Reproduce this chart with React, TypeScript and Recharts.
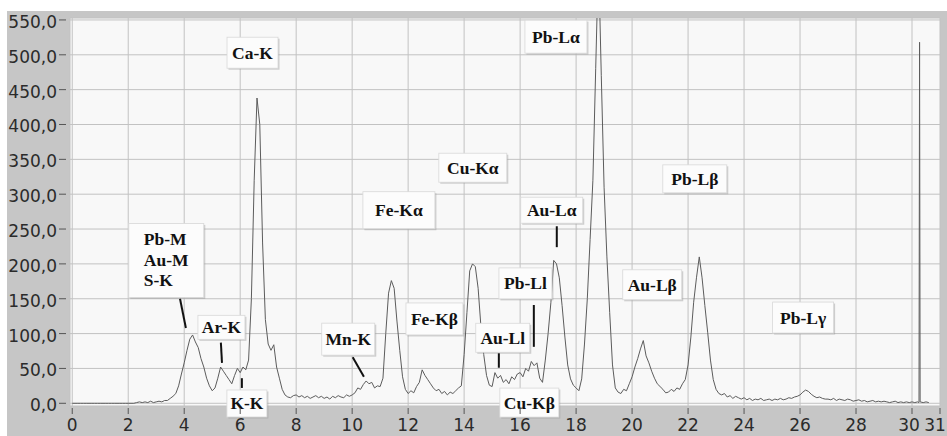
import React from "react";
import {
  CartesianGrid,
  Line,
  LineChart,
  ReferenceDot,
  ReferenceLine,
  XAxis,
  YAxis,
} from "recharts";

// counts per 0.1 keV channel, 0.0 … 30.2 keV
const STEP = 0.1;
const COUNTS = [
  0, 0, 0, 0, 0, 0, 0, 0, 0, 0,
  0, 0, 0, 0, 0, 0, 0, 0, 0, 0,
  0, 0, 0, 1, 2, 1, 2, 1, 3, 1,
  2, 3, 2, 4, 4, 7, 10, 14, 25, 42,
  58, 76, 92, 98, 88, 80, 64, 52, 36, 25,
  18, 22, 36, 52, 46, 40, 34, 28, 40, 50,
  44, 52, 48, 62, 150, 320, 438, 400, 230, 120,
  85, 76, 84, 52, 36, 20, 12, 9, 8, 11,
  12, 9, 11, 8, 10, 7, 9, 11, 8, 10,
  7, 9, 6, 10, 8, 11, 9, 8, 12, 10,
  12, 15, 22, 20, 27, 32, 28, 30, 22, 25,
  24, 36, 100, 158, 176, 165, 118, 76, 38, 20,
  14, 18, 15, 24, 30, 48, 40, 34, 28, 22,
  18, 20, 14, 17, 12, 16, 14, 18, 22, 25,
  70, 130, 190, 200, 196, 165, 110, 70, 40, 26,
  24, 44, 36, 40, 30, 34, 28, 38, 34, 42,
  44, 38, 50, 46, 60, 54, 58, 36, 30, 62,
  100, 145, 205, 200, 180, 140, 95, 55, 35, 26,
  22, 18, 35, 85, 150, 235, 320, 480, 640, 470,
  310, 210, 130, 55, 22, 16, 14, 20, 18, 28,
  38, 52, 64, 78, 90, 68, 58, 46, 36, 28,
  24, 20, 15, 16, 20, 17, 22, 20, 28, 34,
  55, 95, 145, 180, 210, 180, 140, 102, 62, 34,
  20, 14, 12, 14, 9, 11, 7, 10, 8, 6,
  8, 5, 7, 4, 6, 5, 7, 4, 5, 6,
  4, 6, 5, 7, 5, 6, 8, 7, 9, 10,
  12, 16, 19, 17, 13, 10, 8, 9, 7, 6,
  6, 5, 7, 4, 6, 5, 4, 6, 5, 3,
  4, 5, 3, 4, 2, 3, 4, 2, 3, 2,
  3, 2, 1, 2, 3, 1, 2, 1, 2, 1,
  2, 1, 2,
];
// end of the spectrum, with the narrow spike near 30.3 keV
const TAIL_E = [30.25, 30.27, 30.29, 30.4, 30.5, 30.6];
const TAIL_V = [1, 518, 2, 1, 2, 1];

const X_TICKS = [0, 2, 4, 6, 8, 10, 12, 14, 16, 18, 20, 22, 24, 26, 28, 30, 31];
const Y_TICKS = [0, 50, 100, 150, 200, 250, 300, 350, 400, 450, 500, 550];
const X_MINOR = Array.from({ length: 62 }, (_, i) => i * 0.5).filter((t) => !X_TICKS.includes(t));
const Y_MINOR = Y_TICKS.slice(0, -1).map((t) => t + 25);

// peak labels: text lines, box centre in (keV, counts), box size
const LABELS = [
  { lines: ["Ca-K"], e: 6.44, v: 503, w: 51, h: 31 },
  { lines: ["Pb-M", "Au-M", "S-K"], e: 3.36, v: 205, w: 75, h: 74 },
  { lines: ["Ar-K"], e: 5.33, v: 109, w: 47, h: 24 },
  { lines: ["K-K"], e: 6.24, v: -0.3, w: 40, h: 27 },
  { lines: ["Mn-K"], e: 9.86, v: 92, w: 53, h: 32 },
  { lines: ["Fe-Kα"], e: 11.67, v: 277, w: 72, h: 37 },
  { lines: ["Fe-Kβ"], e: 12.94, v: 121, w: 57, h: 32 },
  { lines: ["Cu-Kα"], e: 14.31, v: 338, w: 68, h: 29 },
  { lines: ["Au-Lα"], e: 17.13, v: 277, w: 62, h: 26 },
  { lines: ["Pb-Ll"], e: 16.19, v: 172, w: 53, h: 31 },
  { lines: ["Au-Ll"], e: 15.38, v: 94, w: 54, h: 29 },
  { lines: ["Cu-Kβ"], e: 16.33, v: 1, w: 59, h: 29 },
  { lines: ["Pb-Lα"], e: 17.28, v: 526, w: 62, h: 33 },
  { lines: ["Pb-Lβ"], e: 22.24, v: 322, w: 64, h: 28 },
  { lines: ["Au-Lβ"], e: 20.72, v: 170, w: 59, h: 30 },
  { lines: ["Pb-Lγ"], e: 26.11, v: 123, w: 61, h: 31 },
];

// leader lines from labels to peaks
const LEADERS = [
  [3.85, 150, 4.06, 108],
  [5.31, 87, 5.35, 58],
  [6.06, 36, 6.06, 22],
  [10.02, 66, 10.42, 38],
  [17.31, 254, 17.31, 224],
  [16.49, 141, 16.49, 81],
  [15.24, 72, 15.24, 51],
];

const data = COUNTS.map((v, i) => ({ e: +(i * STEP).toFixed(2), v })).concat(
  TAIL_E.map((e, i) => ({ e, v: TAIL_V[i] }))
);

const AXIS_FONT = "'DejaVu Sans', Verdana, sans-serif";
const LABEL_FONT = "'Liberation Serif', 'Times New Roman', serif";
const PLOT_BOTTOM = 406;

const YTick = ({ y, payload }: any) => (
  <g>
    <line x1={59} x2={66} y1={y} y2={y} stroke="#555" strokeWidth={1} />
    <text x={57} y={y + 8} textAnchor="end" fontSize={17} fill="#2b2b2b" fontFamily={AXIS_FONT}>
      {Number(payload.value).toFixed(1).replace(".", ",")}
    </text>
  </g>
);

const YMinorTick = ({ y }: any) => <line x1={62} x2={66} y1={y} y2={y} stroke="#777" strokeWidth={1} />;

// "30" and "31" sit close together against the frame's right edge
const LABEL_NUDGE: Record<number, number> = { 30: -3, 31: -5 };

const XTick = ({ x, payload }: any) => (
  <g>
    <line x1={x} x2={x} y1={PLOT_BOTTOM + 2} y2={PLOT_BOTTOM + 8} stroke="#555" strokeWidth={1} />
    <text
      x={x + (LABEL_NUDGE[payload.value] ?? 0)}
      y={431}
      textAnchor="middle"
      fontSize={17}
      fill="#2b2b2b"
      fontFamily={AXIS_FONT}
    >
      {payload.value}
    </text>
  </g>
);

const XMinorTick = ({ x }: any) => (
  <line x1={x} x2={x} y1={PLOT_BOTTOM + 2} y2={PLOT_BOTTOM + 6} stroke="#777" strokeWidth={1} />
);

function LabelBox({ cx, cy, label }: any) {
  const { lines, w, h } = label;
  const left = cx - w / 2;
  const top = cy - h / 2;
  const multi = lines.length > 1;
  return (
    <g>
      <rect x={left + 1.5} y={top + 1.5} width={w} height={h} fill="#9a9a9a" opacity={0.45} />
      <rect x={left} y={top} width={w} height={h} fill="#fcfcfc" stroke="#d8d8d8" strokeWidth={0.8} />
      {lines.map((t: string, i: number) => (
        <text
          key={t}
          x={multi ? left + 15 : cx}
          y={multi ? top + 22 + i * 20.5 : cy + 6}
          textAnchor={multi ? "start" : "middle"}
          fontSize={17.5}
          fontWeight="bold"
          fill="#111"
          fontFamily={LABEL_FONT}
        >
          {t}
        </text>
      ))}
    </g>
  );
}

export default function App() {
  return (
    <div style={{ position: "fixed", left: 0, top: 0, width: 947, height: 436, background: "#fff" }}>
      <div style={{ position: "absolute", left: 7, top: 11, width: 940, height: 425, background: "#c6c6c6" }} />
      <div style={{ position: "absolute", left: 0, top: 0 }}>
        <LineChart width={947} height={436} data={data} margin={{ top: 18, right: 7, bottom: 0, left: 0 }}>
          <CartesianGrid stroke="#c2c2c2" fill="#f8f8f8" strokeWidth={1} />
          <XAxis
            dataKey="e"
            type="number"
            domain={[-0.08, 31]}
            ticks={X_TICKS}
            allowDataOverflow
            height={30}
            axisLine={false}
            tickLine={false}
            tick={<XTick />}
            interval={0}
          />
          <XAxis
            xAxisId="m"
            dataKey="e"
            type="number"
            domain={[-0.08, 31]}
            ticks={X_MINOR}
            allowDataOverflow
            height={0}
            axisLine={false}
            tickLine={false}
            tick={<XMinorTick />}
            interval={0}
          />
          <YAxis
            domain={[-3.9, 552.8]}
            ticks={Y_TICKS}
            allowDataOverflow
            width={70}
            axisLine={false}
            tickLine={false}
            tick={<YTick />}
            interval={0}
          />
          <YAxis
            yAxisId="m"
            domain={[-3.9, 552.8]}
            ticks={Y_MINOR}
            allowDataOverflow
            width={0}
            axisLine={false}
            tickLine={false}
            tick={<YMinorTick />}
            interval={0}
          />
          <Line
            dataKey="v"
            type="linear"
            stroke="#5c5c5c"
            strokeWidth={1}
            dot={false}
            activeDot={false}
            isAnimationActive={false}
          />
          {LEADERS.map(([x1, y1, x2, y2], i) => (
            <ReferenceLine
              key={`l${i}`}
              segment={[
                { x: x1, y: y1 },
                { x: x2, y: y2 },
              ]}
              stroke="#111"
              strokeWidth={2}
              ifOverflow="visible"
            />
          ))}
          {LABELS.map((l) => (
            <ReferenceDot
              key={l.lines.join("")}
              x={l.e}
              y={l.v}
              r={1}
              ifOverflow="visible"
              shape={(p: any) => <LabelBox cx={p.cx} cy={p.cy} label={l} />}
            />
          ))}
        </LineChart>
      </div>
    </div>
  );
}
